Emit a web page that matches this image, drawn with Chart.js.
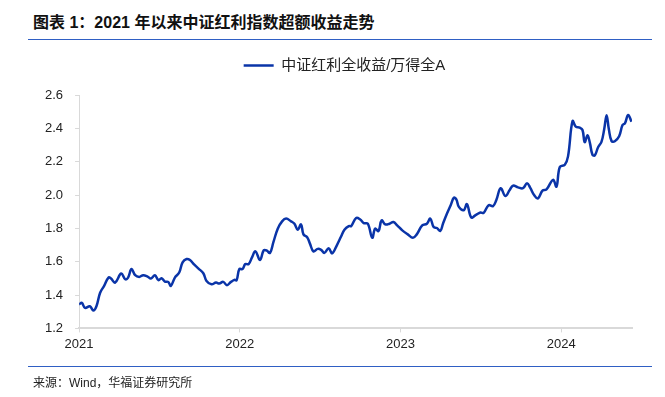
<!DOCTYPE html>
<html>
<head>
<meta charset="utf-8">
<script src="https://cdn.jsdelivr.net/npm/chart.js@4"></script>
<style>
  html, body { margin: 0; padding: 0; background: #fff; }
  body { width: 665px; height: 397px; position: relative; overflow: hidden;
         font-family: "Liberation Sans", "Noto Sans CJK SC", sans-serif; }
  .title { position: absolute; left: 33px; top: 9px; font-size: 16px; font-weight: bold; color: #111; }
  .rule { position: absolute; left: 28px; width: 624px; height: 1px; background: #2f5fc4; }
  .source { position: absolute; left: 33px; top: 373px; font-size: 12px; color: #222; }
  #wrap { position: absolute; left: 0; top: 0; width: 665px; height: 397px; }
</style>
</head>
<body>
<div class="title">图表 1：2021 年以来中证红利指数超额收益走势</div>
<div class="rule" style="top:39px"></div>
<div id="wrap"><canvas id="excessChart"></canvas></div>
<div class="rule" style="top:366px"></div>
<div class="source">来源：Wind，华福证券研究所</div>
<script>
// 时间（年份小数）和 中证红利全收益/万得全A 比值
const years = [
  2021.000, 2021.017, 2021.037, 2021.067, 2021.089, 2021.108, 2021.131, 2021.156, 2021.183, 2021.199,
  2021.224, 2021.262, 2021.287, 2021.305, 2021.326, 2021.349, 2021.374, 2021.399, 2021.426, 2021.447,
  2021.472, 2021.494, 2021.513, 2021.534, 2021.555, 2021.571, 2021.596, 2021.623, 2021.644, 2021.669,
  2021.690, 2021.717, 2021.743, 2021.773, 2021.793, 2021.824, 2021.852, 2021.872, 2021.897, 2021.920,
  2021.945, 2021.966, 2021.980, 2021.997, 2022.017, 2022.034, 2022.055, 2022.076, 2022.097, 2022.126,
  2022.148, 2022.167, 2022.188, 2022.209, 2022.236, 2022.263, 2022.288, 2022.319, 2022.340, 2022.360,
  2022.381, 2022.396, 2022.419, 2022.437, 2022.458, 2022.485, 2022.506, 2022.526, 2022.553, 2022.574,
  2022.603, 2022.630, 2022.651, 2022.678, 2022.693, 2022.724, 2022.749, 2022.771, 2022.796, 2022.824,
  2022.842, 2022.863, 2022.882, 2022.905, 2022.931, 2022.956, 2022.979, 2023.011, 2023.045, 2023.077,
  2023.101, 2023.135, 2023.164, 2023.185, 2023.206, 2023.226, 2023.247, 2023.264, 2023.289, 2023.312,
  2023.332, 2023.347, 2023.363, 2023.393, 2023.413, 2023.440, 2023.467, 2023.497, 2023.517, 2023.548,
  2023.575, 2023.596, 2023.623, 2023.652, 2023.679, 2023.700, 2023.731, 2023.762, 2023.787, 2023.808,
  2023.831, 2023.855, 2023.883, 2023.908, 2023.949, 2023.970, 2023.991, 2024.022, 2024.042, 2024.070,
  2024.090, 2024.115, 2024.132, 2024.146, 2024.163, 2024.178, 2024.194, 2024.209, 2024.229, 2024.250,
  2024.267, 2024.282, 2024.296, 2024.313, 2024.333, 2024.360, 2024.381, 2024.396, 2024.416, 2024.437
];
const ratio = [
  1.344, 1.353, 1.323, 1.333, 1.307, 1.333, 1.414, 1.455, 1.505, 1.499,
  1.475, 1.529, 1.495, 1.505, 1.556, 1.519, 1.509, 1.519, 1.511, 1.499,
  1.519, 1.489, 1.501, 1.481, 1.479, 1.455, 1.505, 1.535, 1.596, 1.616,
  1.610, 1.582, 1.559, 1.531, 1.485, 1.465, 1.475, 1.469, 1.479, 1.459,
  1.479, 1.491, 1.489, 1.556, 1.556, 1.586, 1.586, 1.626, 1.662, 1.610,
  1.667, 1.667, 1.653, 1.717, 1.798, 1.842, 1.859, 1.842, 1.828, 1.792,
  1.824, 1.764, 1.747, 1.707, 1.662, 1.677, 1.671, 1.653, 1.681, 1.650,
  1.697, 1.751, 1.792, 1.814, 1.814, 1.862, 1.853, 1.832, 1.828, 1.744,
  1.798, 1.784, 1.848, 1.824, 1.828, 1.838, 1.818, 1.788, 1.764, 1.744,
  1.764, 1.818, 1.828, 1.859, 1.808, 1.802, 1.784, 1.828, 1.889, 1.939,
  1.984, 1.974, 1.929, 1.909, 1.945, 1.865, 1.879, 1.895, 1.893, 1.939,
  1.933, 1.970, 2.041, 1.994, 2.030, 2.056, 2.046, 2.041, 2.071, 2.041,
  2.000, 1.980, 2.026, 2.034, 2.091, 2.050, 2.168, 2.182, 2.232, 2.444,
  2.410, 2.404, 2.390, 2.317, 2.359, 2.313, 2.242, 2.238, 2.287, 2.319,
  2.394, 2.479, 2.394, 2.323, 2.323, 2.353, 2.420, 2.430, 2.480, 2.440
];
const yearTicks = [2021, 2022, 2023, 2024];
const seriesName = '中证红利全收益/万得全A';

const fontFamily = '"Liberation Sans", "Noto Sans CJK SC", sans-serif';
const axisGrey = '#d9d9d9';

// 图例下面多留一点空，并稍微右移
const legendTweak = {
  id: 'legendTweak',
  beforeInit(chart) {
    const fit = chart.legend.fit;
    chart.legend.fit = function () {
      fit.bind(chart.legend)();
      this.height += 12;
    };
  },
  afterLayout(chart) {
    chart.legend.left += 12;
    chart.legend.right += 12;
  }
};

const ctx = document.getElementById('excessChart').getContext('2d');
const excessChart = new Chart(ctx, {
  type: 'line',
  data: {
    datasets: [{
      label: seriesName,
      data: years.map((x, i) => ({ x: x, y: ratio[i] })),
      borderColor: '#0a34a8',
      backgroundColor: '#0a34a8',
      borderWidth: 2.5,
      pointRadius: 0,
      tension: 0.4,
      fill: false
    }]
  },
  options: {
    responsive: true,
    maintainAspectRatio: false,
    animation: false,
    layout: { padding: { top: 48, left: 33, right: 33, bottom: 41 } },
    plugins: {
      legend: {
        labels: {
          usePointStyle: true,
          pointStyle: 'line',
          pointStyleWidth: 30,
          color: '#222',
          font: { family: fontFamily, size: 15 }
        }
      },
      tooltip: { enabled: false }
    },
    scales: {
      x: {
        type: 'linear',
        min: 2021,
        max: 2024.44,
        afterBuildTicks: axis => { axis.ticks = yearTicks.map(v => ({ value: v })); },
        ticks: {
          color: '#222',
          padding: 4,
          maxRotation: 0,
          font: { family: fontFamily, size: 13 },
          callback: v => String(v)
        },
        grid: { drawOnChartArea: false, drawTicks: true, tickLength: 4, color: axisGrey },
        border: { color: axisGrey, width: 2 }
      },
      y: {
        min: 1.2,
        max: 2.6,
        ticks: {
          stepSize: 0.2,
          color: '#222',
          padding: 12,
          font: { family: fontFamily, size: 13 },
          callback: v => v.toFixed(1)
        },
        grid: { drawOnChartArea: false, drawTicks: true, tickLength: 4, color: axisGrey },
        border: { color: axisGrey, width: 1 }
      }
    }
  },
  plugins: [legendTweak]
});
</script>
</body>
</html>
